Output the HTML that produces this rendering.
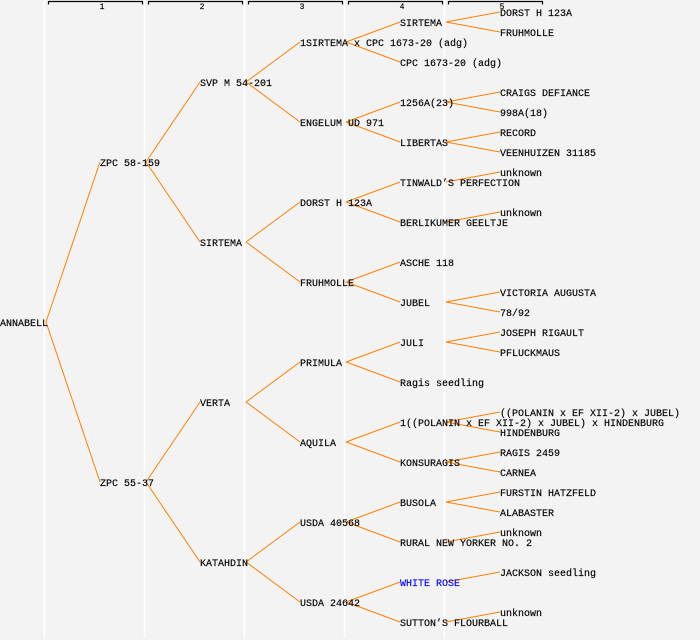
<!DOCTYPE html>
<html><head><meta charset="utf-8"><style>
html,body{margin:0;padding:0;background:#f3f3f3;}
svg{display:block;}
text{font-family:"Liberation Mono",monospace;font-size:10px;fill:#000;stroke:#000;stroke-width:0.15;}
</style></head><body>
<svg width="700" height="640" xmlns="http://www.w3.org/2000/svg">
<rect width="700" height="640" fill="#f3f3f3"/>
<g stroke="#fff" stroke-width="1.5">
<line x1="44.5" y1="0" x2="44.5" y2="638"/>
<line x1="144.5" y1="0" x2="144.5" y2="638"/>
<line x1="244.5" y1="0" x2="244.5" y2="638"/>
<line x1="344.5" y1="0" x2="344.5" y2="638"/>
<line x1="444.5" y1="0" x2="444.5" y2="638"/>
</g>
<g stroke="#000" stroke-width="1.2" fill="none">
<path d="M48.5 4.5V1.5H142.5V4.5"/>
<path d="M148.5 4.5V1.5H242.5V4.5"/>
<path d="M248.5 4.5V1.5H342.5V4.5"/>
<path d="M348.5 4.5V1.5H442.5V4.5"/>
<path d="M448.5 4.5V1.5H542.5V4.5"/>
</g>
<g text-anchor="middle">
<text x="102" y="9" style="font-size:8px">1</text>
<text x="202" y="9" style="font-size:8px">2</text>
<text x="302" y="9" style="font-size:8px">3</text>
<text x="402" y="9" style="font-size:8px">4</text>
<text x="502" y="9" style="font-size:8px">5</text>
</g>
<g stroke="#ff8000" stroke-width="1" fill="none">
<line x1="46" y1="322" x2="100" y2="162"/><line x1="46" y1="322" x2="100" y2="482"/>
<line x1="146" y1="162" x2="200" y2="82"/><line x1="146" y1="162" x2="200" y2="242"/>
<line x1="146" y1="482" x2="200" y2="402"/><line x1="146" y1="482" x2="200" y2="562"/>
<line x1="246" y1="82" x2="300" y2="42"/><line x1="246" y1="82" x2="300" y2="122"/>
<line x1="246" y1="242" x2="300" y2="202"/><line x1="246" y1="242" x2="300" y2="282"/>
<line x1="246" y1="402" x2="300" y2="362"/><line x1="246" y1="402" x2="300" y2="442"/>
<line x1="246" y1="562" x2="300" y2="522"/><line x1="246" y1="562" x2="300" y2="602"/>
<line x1="346" y1="42" x2="400" y2="22"/><line x1="346" y1="42" x2="400" y2="62"/>
<line x1="346" y1="122" x2="400" y2="102"/><line x1="346" y1="122" x2="400" y2="142"/>
<line x1="346" y1="202" x2="400" y2="182"/><line x1="346" y1="202" x2="400" y2="222"/>
<line x1="346" y1="282" x2="400" y2="262"/><line x1="346" y1="282" x2="400" y2="302"/>
<line x1="346" y1="362" x2="400" y2="342"/><line x1="346" y1="362" x2="400" y2="382"/>
<line x1="346" y1="442" x2="400" y2="422"/><line x1="346" y1="442" x2="400" y2="462"/>
<line x1="346" y1="522" x2="400" y2="502"/><line x1="346" y1="522" x2="400" y2="542"/>
<line x1="346" y1="602" x2="400" y2="582"/><line x1="346" y1="602" x2="400" y2="622"/>
<line x1="446" y1="22" x2="500" y2="12"/><line x1="446" y1="22" x2="500" y2="32"/>
<line x1="446" y1="102" x2="500" y2="92"/><line x1="446" y1="102" x2="500" y2="112"/>
<line x1="446" y1="142" x2="500" y2="132"/><line x1="446" y1="142" x2="500" y2="152"/>
<line x1="446" y1="182" x2="500" y2="172"/>
<line x1="446" y1="222" x2="500" y2="212"/>
<line x1="446" y1="302" x2="500" y2="292"/><line x1="446" y1="302" x2="500" y2="312"/>
<line x1="446" y1="342" x2="500" y2="332"/><line x1="446" y1="342" x2="500" y2="352"/>
<line x1="446" y1="422" x2="500" y2="412"/><line x1="446" y1="422" x2="500" y2="432"/>
<line x1="446" y1="462" x2="500" y2="452"/><line x1="446" y1="462" x2="500" y2="472"/>
<line x1="446" y1="502" x2="500" y2="492"/><line x1="446" y1="502" x2="500" y2="512"/>
<line x1="446" y1="542" x2="500" y2="532"/>
<line x1="446" y1="582" x2="500" y2="572"/>
<line x1="446" y1="622" x2="500" y2="612"/>
</g>
<g>
<text x="0" y="326">ANNABELL</text>
<text x="100" y="166">ZPC 58-159</text>
<text x="100" y="486">ZPC 55-37</text>
<text x="200" y="86">SVP M 54-201</text>
<text x="200" y="246">SIRTEMA</text>
<text x="200" y="406">VERTA</text>
<text x="200" y="566">KATAHDIN</text>
<text x="300" y="46">1SIRTEMA x CPC 1673-20 (adg)</text>
<text x="300" y="126">ENGELUM UD 971</text>
<text x="300" y="206">DORST H 123A</text>
<text x="300" y="286">FRUHMOLLE</text>
<text x="300" y="366">PRIMULA</text>
<text x="300" y="446">AQUILA</text>
<text x="300" y="526">USDA 40568</text>
<text x="300" y="606">USDA 24642</text>
<text x="400" y="26">SIRTEMA</text>
<text x="400" y="66">CPC 1673-20 (adg)</text>
<text x="400" y="106">1256A(23)</text>
<text x="400" y="146">LIBERTAS</text>
<text x="400" y="186">TINWALD’S PERFECTION</text>
<text x="400" y="226">BERLIKUMER GEELTJE</text>
<text x="400" y="266">ASCHE 118</text>
<text x="400" y="306">JUBEL</text>
<text x="400" y="346">JULI</text>
<text x="400" y="386">Ragis seedling</text>
<text x="400" y="426">1((POLANIN x EF XII-2) x JUBEL) x HINDENBURG</text>
<text x="400" y="466">KONSURAGIS</text>
<text x="400" y="506">BUSOLA</text>
<text x="400" y="546">RURAL NEW YORKER NO. 2</text>
<text x="400" y="586" style="fill:#0000ff;stroke:#0000ff">WHITE ROSE</text>
<text x="400" y="626">SUTTON’S FLOURBALL</text>
<text x="500" y="16">DORST H 123A</text>
<text x="500" y="36">FRUHMOLLE</text>
<text x="500" y="96">CRAIGS DEFIANCE</text>
<text x="500" y="116">998A(18)</text>
<text x="500" y="136">RECORD</text>
<text x="500" y="156">VEENHUIZEN 31185</text>
<text x="500" y="176">unknown</text>
<text x="500" y="216">unknown</text>
<text x="500" y="296">VICTORIA AUGUSTA</text>
<text x="500" y="316">78/92</text>
<text x="500" y="336">JOSEPH RIGAULT</text>
<text x="500" y="356">PFLUCKMAUS</text>
<text x="500" y="416">((POLANIN x EF XII-2) x JUBEL)</text>
<text x="500" y="436">HINDENBURG</text>
<text x="500" y="456">RAGIS 2459</text>
<text x="500" y="476">CARNEA</text>
<text x="500" y="496">FURSTIN HATZFELD</text>
<text x="500" y="516">ALABASTER</text>
<text x="500" y="536">unknown</text>
<text x="500" y="576">JACKSON seedling</text>
<text x="500" y="616">unknown</text>
</g>
</svg>
</body></html>
